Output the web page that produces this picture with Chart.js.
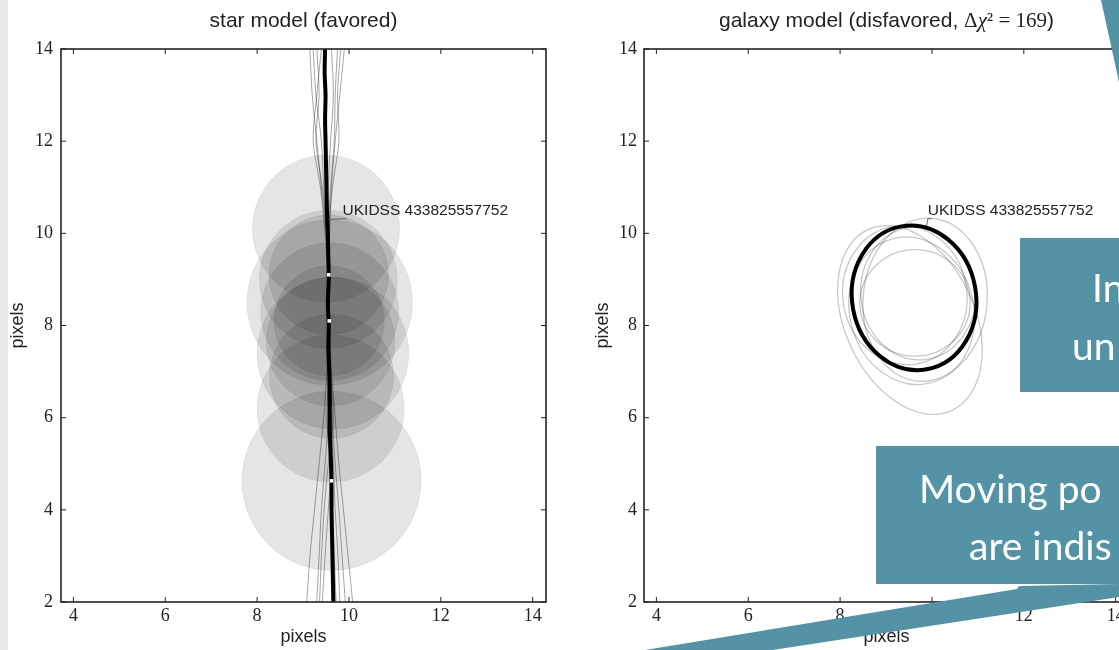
<!DOCTYPE html>
<html>
<head>
<meta charset="utf-8">
<script src="https://cdn.jsdelivr.net/npm/chart.js@4.4.1/dist/chart.umd.min.js"></script>
<style>
  html, body { margin: 0; padding: 0; }
  body { width: 1119px; height: 650px; overflow: hidden; position: relative; background: #fff; }
  .strip { position: absolute; left: 0; top: 0; width: 8px; height: 650px; background: #e9e9e9; }
  #starChart { position: absolute; left: 0; top: 0; }
  #galaxyChart { position: absolute; left: 585px; top: 0; }
  svg.callouts { position: absolute; left: 0; top: 0; }
</style>
</head>
<body>
<div class="strip"></div>
<canvas id="starChart" width="560" height="650"></canvas>
<canvas id="galaxyChart" width="560" height="650"></canvas>
<svg class="callouts" width="1119" height="650">
  <polygon points="1101,0 1119,0 1119,82" fill="#5393a5"/>
  <rect x="1020" y="238" width="99" height="154" fill="#5393a5"/>
  <rect x="876" y="446" width="243" height="138" fill="#5393a5"/>
  <polygon points="1019,586 1119,584 1119,597 766,651 639,651 1017,589" fill="#5393a5"/>
  <g fill="#fff" font-family="Lato, 'Open Sans', sans-serif" font-size="39">
    <text x="1092" y="302">In</text>
    <text x="1072" y="360">un</text>
    <text x="919" y="503">Moving po</text>
    <text x="969" y="560">are indis</text>
  </g>
</svg>
<script>
// axes (both panels share them)
const xTickVals = [4, 6, 8, 10, 12, 14];
const yTickVals = [2, 4, 6, 8, 10, 12, 14];
const xMin = 3.73, xMax = 14.29, yMin = 2, yMax = 14;

// star model: best track
const trackY = [14, 13.5, 13, 12.5, 12, 11.5, 11, 10.5, 10, 9.5, 9, 8.5, 8, 7.5, 7, 6.5, 6, 5.5, 5, 4.5, 4, 3.5, 3, 2.5, 2];
const trackX = [9.48, 9.47, 9.49, 9.48, 9.49, 9.50, 9.51, 9.52, 9.54, 9.55, 9.56, 9.54, 9.56, 9.55, 9.57, 9.58, 9.58, 9.59, 9.61, 9.62, 9.62, 9.63, 9.64, 9.65, 9.66];

// star model: sampled tracks
const sampleY = [14, 13, 12, 11, 10, 9, 8, 7, 6, 5, 4, 3, 2];
const sampleX = [
  [9.15, 9.20, 9.30, 9.40, 9.50, 9.55, 9.56, 9.52, 9.45, 9.35, 9.25, 9.15, 9.08],
  [9.90, 9.80, 9.70, 9.62, 9.58, 9.57, 9.58, 9.62, 9.70, 9.78, 9.88, 9.98, 10.08],
  [9.30, 9.35, 9.28, 9.42, 9.52, 9.55, 9.57, 9.58, 9.55, 9.48, 9.40, 9.35, 9.30],
  [9.75, 9.70, 9.68, 9.60, 9.55, 9.56, 9.57, 9.60, 9.64, 9.70, 9.78, 9.85, 9.92],
  [9.40, 9.30, 9.22, 9.38, 9.48, 9.54, 9.56, 9.56, 9.58, 9.62, 9.55, 9.48, 9.42],
  [9.62, 9.66, 9.60, 9.55, 9.54, 9.55, 9.57, 9.59, 9.62, 9.66, 9.70, 9.76, 9.80],
  [9.82, 9.75, 9.78, 9.64, 9.56, 9.56, 9.58, 9.56, 9.52, 9.58, 9.64, 9.68, 9.72],
  [9.22, 9.28, 9.40, 9.45, 9.51, 9.55, 9.57, 9.60, 9.66, 9.55, 9.46, 9.40, 9.36]
];

// star model: position circles (radius in pixels of the image)
const circX = [9.50, 9.55, 9.58, 9.60, 9.56, 9.57, 9.62, 9.60, 9.62, 9.58, 9.65];
const circY = [10.10, 9.00, 8.30, 7.65, 9.10, 8.10, 6.90, 6.20, 4.63, 8.50, 7.40];
const circR = [1.60, 1.50, 1.50, 1.40, 1.30, 1.20, 1.35, 1.60, 1.95, 1.80, 1.65];
const markX = [9.56, 9.57, 9.62];
const markY = [9.10, 8.10, 4.63];

// galaxy model: ellipses (first one is the best fit)
const ellX = [9.61, 9.52, 9.85, 9.63, 9.56, 9.41, 9.70];
const ellY = [8.60, 8.12, 8.56, 8.49, 8.32, 8.66, 8.70];
const ellRx = [1.35, 1.41, 1.35, 1.20, 1.35, 1.35, 1.25];
const ellRy = [1.58, 2.17, 1.78, 1.16, 1.62, 1.52, 1.45];
const ellTilt = [-10, -25, 5, 0, -15, -10, -5];

// label of the source
const labelText = 'UKIDSS 433825557752';
const starLabel = { x: 9.86, y: 10.49, px: 9.54, py: 10.30 };
const galaxyLabel = { x: 9.91, y: 10.49, px: 9.88, py: 10.15 };

const sans = "'Liberation Sans', Arial, sans-serif";
const serif = "'Liberation Serif', 'DejaVu Serif', serif";

function pxPerUnit(chart) {
  const x = chart.scales.x;
  return Math.abs(x.getPixelForValue(1) - x.getPixelForValue(0));
}

// frame on all four sides with inward ticks
const frame = {
  id: 'frame',
  afterDatasetsDraw(chart) {
    const { ctx, chartArea: a, scales: { x, y } } = chart;
    ctx.save();
    ctx.strokeStyle = '#222';
    ctx.lineWidth = 1.6;
    ctx.strokeRect(a.left, a.top, a.right - a.left, a.bottom - a.top);
    ctx.lineWidth = 1;
    ctx.beginPath();
    x.ticks.forEach(t => {
      const p = x.getPixelForValue(t.value);
      ctx.moveTo(p, a.bottom); ctx.lineTo(p, a.bottom - 5);
      ctx.moveTo(p, a.top); ctx.lineTo(p, a.top + 5);
    });
    y.ticks.forEach(t => {
      const p = y.getPixelForValue(t.value);
      ctx.moveTo(a.left, p); ctx.lineTo(a.left + 5, p);
      ctx.moveTo(a.right, p); ctx.lineTo(a.right - 5, p);
    });
    ctx.stroke();
    ctx.restore();
  }
};

// title centred over the plot area, may mix fonts
const panelTitle = {
  id: 'panelTitle',
  afterDraw(chart, args, opts) {
    const { ctx, chartArea: a } = chart;
    ctx.save();
    ctx.fillStyle = '#222';
    ctx.textBaseline = 'middle';
    const widths = opts.parts.map(p => { ctx.font = p.font; return ctx.measureText(p.text).width; });
    let x = (a.left + a.right) / 2 - widths.reduce((s, w) => s + w, 0) / 2;
    opts.parts.forEach((p, i) => {
      ctx.font = p.font;
      ctx.fillText(p.text, x, 21);
      x += widths[i];
    });
    ctx.restore();
  }
};

// source label with a short leader line
const sourceLabel = {
  id: 'sourceLabel',
  afterDatasetsDraw(chart, args, opts) {
    const { ctx, scales: { x, y } } = chart;
    const l = opts.label;
    const tx = x.getPixelForValue(l.x), ty = y.getPixelForValue(l.y);
    ctx.save();
    ctx.strokeStyle = '#444';
    ctx.lineWidth = 0.8;
    ctx.beginPath();
    ctx.moveTo(x.getPixelForValue(l.px), y.getPixelForValue(l.py));
    ctx.lineTo(tx, ty + 8);
    ctx.lineTo(tx + 4, ty + 8);
    ctx.stroke();
    ctx.fillStyle = '#222';
    ctx.font = '15.5px ' + sans;
    ctx.textBaseline = 'middle';
    ctx.fillText(labelText, tx, ty);
    ctx.restore();
  }
};

// galaxy ellipses drawn around the dataset's points
const ellipses = {
  id: 'ellipses',
  afterDatasetsDraw(chart) {
    const { ctx, chartArea: a } = chart;
    const meta = chart.getDatasetMeta(0);
    const k = pxPerUnit(chart);
    ctx.save();
    ctx.beginPath();
    ctx.rect(a.left, a.top, a.right - a.left, a.bottom - a.top);
    ctx.clip();
    for (let i = meta.data.length - 1; i >= 0; i--) {
      const pt = meta.data[i];
      ctx.beginPath();
      ctx.ellipse(pt.x, pt.y, ellRx[i] * k, ellRy[i] * k, ellTilt[i] * Math.PI / 180, 0, 2 * Math.PI);
      ctx.strokeStyle = i === 0 ? '#000' : 'rgba(0,0,0,0.22)';
      ctx.lineWidth = i === 0 ? 4 : 1.3;
      ctx.stroke();
    }
    ctx.restore();
  }
};

function scalesFor(yWidth, yPad) {
  return {
    x: {
      type: 'linear', min: xMin, max: xMax,
      afterBuildTicks: s => { s.ticks = xTickVals.map(v => ({ value: v })); },
      afterFit: s => { s.height = 48; },
      grid: { display: false, drawTicks: false },
      border: { display: false },
      ticks: { autoSkip: false, maxRotation: 0, padding: 3, color: '#222', font: { family: serif, size: 18 } },
      title: { display: true, text: 'pixels', color: '#222', font: { family: sans, size: 18 }, padding: { top: 0, bottom: 2 } }
    },
    y: {
      type: 'linear', min: yMin, max: yMax,
      afterBuildTicks: s => { s.ticks = yTickVals.map(v => ({ value: v })); },
      afterFit: s => { s.width = yWidth; },
      grid: { display: false, drawTicks: false },
      border: { display: false },
      ticks: { autoSkip: false, padding: yPad, color: '#222', font: { family: serif, size: 18 } },
      title: { display: true, text: 'pixels', color: '#222', font: { family: sans, size: 18 }, padding: { top: 7, bottom: 0 } }
    }
  };
}

const pointsOf = (xs, ys) => xs.map((v, i) => ({ x: v, y: ys[i] }));

new Chart(document.getElementById('starChart'), {
  type: 'scatter',
  data: {
    datasets: [
      {
        data: pointsOf(markX, markY),
        pointStyle: 'rect', pointRadius: 2.5, backgroundColor: '#fff', borderWidth: 0
      },
      {
        data: pointsOf(trackX, trackY),
        showLine: true, borderColor: '#000', borderWidth: 4, pointRadius: 0, tension: 0.3
      },
      ...sampleX.map(xs => ({
        data: pointsOf(xs, sampleY),
        showLine: true, borderColor: 'rgba(0,0,0,0.35)', borderWidth: 1, pointRadius: 0, tension: 0.3
      })),
      {
        data: circX.map((v, i) => ({ x: v, y: circY[i], r: circR[i] })),
        pointRadius: c => (c.raw ? c.raw.r * pxPerUnit(c.chart) : 0),
        backgroundColor: 'rgba(0,0,0,0.1)',
        borderColor: 'rgba(0,0,0,0.07)',
        borderWidth: 1
      }
    ]
  },
  options: {
    responsive: false,
    animation: false,
    events: [],
    layout: { padding: { top: 49, right: 14, left: 0, bottom: 0 } },
    scales: scalesFor(61, 8),
    plugins: {
      legend: { display: false },
      tooltip: { enabled: false },
      panelTitle: { parts: [{ text: 'star model (favored)', font: '21px ' + sans }] },
      sourceLabel: { label: starLabel }
    }
  },
  plugins: [frame, panelTitle, sourceLabel]
});

new Chart(document.getElementById('galaxyChart'), {
  type: 'scatter',
  data: {
    datasets: [
      { data: pointsOf(ellX, ellY), pointRadius: 0 }
    ]
  },
  options: {
    responsive: false,
    animation: false,
    events: [],
    layout: { padding: { top: 49, right: 16, left: 0, bottom: 0 } },
    scales: scalesFor(59, 7),
    plugins: {
      legend: { display: false },
      tooltip: { enabled: false },
      panelTitle: {
        parts: [
          { text: 'galaxy model (disfavored, ', font: '21px ' + sans },
          { text: 'Δ', font: '21px ' + serif },
          { text: 'χ', font: 'italic 21px ' + serif },
          { text: '² = 169', font: '21px ' + serif },
          { text: ')', font: '21px ' + sans }
        ]
      },
      sourceLabel: { label: galaxyLabel }
    }
  },
  plugins: [ellipses, frame, panelTitle, sourceLabel]
});
</script>
</body>
</html>
